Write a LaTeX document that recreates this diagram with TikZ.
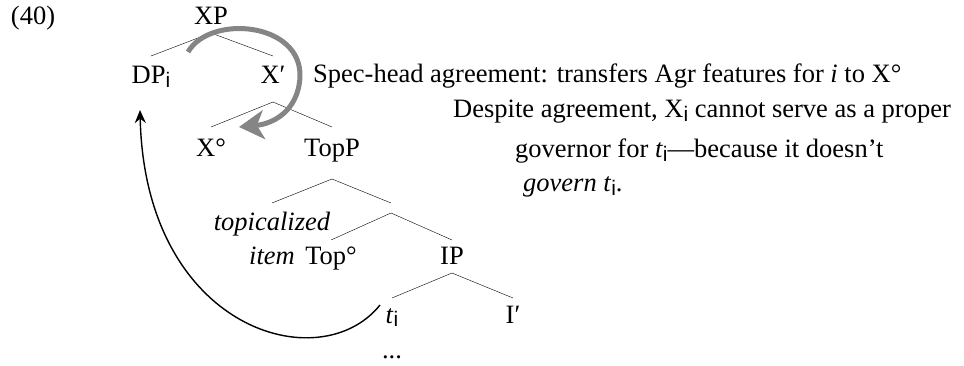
\documentclass[tikz,border=0pt]{standalone}
\usepackage{fontspec}
\usepackage{tikz}
\usetikzlibrary{arrows.meta}
\setmainfont{Liberation Serif}
\newfontfamily\subfont{Liberation Sans}
\newcommand{\sbi}{\raisebox{-3.5pt}{\fontsize{21}{21}\subfont i}}

\tikzset{
    lbl/.style={anchor=base, inner sep=0pt},
    txt/.style={anchor=base west, inner sep=0pt},
    agree/.style={line width=5pt, color=black!48, -{Stealth[length=25pt, width=29pt, inset=7pt]}},
    move/.style={line width=1.4pt, -{Stealth[length=13pt, width=11pt]}}
}

\begin{document}
\begin{tikzpicture}[x=1pt, y=-1pt, font=\fontsize{26.5}{30}\selectfont]
        \useasboundingbox (0,0) rectangle (964,366);
        %number
            \node[lbl] (ex) at (33,25) {(40)};
        %tree nodes
            \node[lbl] (xp) at (211,25) {XP};
            \node[lbl] (dp) at (151,84) {DP\sbi};
            \node[lbl] (xbar) at (273,84) {X′};
            \node[lbl] (xhead) at (211,157) {X°};
            \node[lbl] (topp) at (332,157) {TopP};
            \node[lbl] (topa) at (272,231) {\textit{topicalized}};
            \node[lbl] (topb) at (272,265) {\textit{item}};
            \coordinate (topbar) at (391,208);
            \node[lbl] (tophead) at (331,265) {Top°};
            \node[lbl] (ip) at (452,265) {IP};
            \node[lbl] (trace) at (392,323) {\textit{t}\sbi};
            \node[lbl] (ibar) at (513,323) {I′};
            \node[lbl] (dots) at (392,358) {...};
        % branches
            \draw ([yshift=-8pt]xp.base) -- ([yshift=28pt]dp.base);
            \draw ([yshift=-8pt]xp.base) -- ([yshift=28pt]xbar.base);
            \draw ([yshift=-18pt]xbar.base) -- ([yshift=30pt]xhead.base);
            \draw ([yshift=-18pt]xbar.base) -- ([yshift=30pt]topp.base);
            \draw ([yshift=-22pt]topp.base) -- ([yshift=28pt]topa.base);
            \draw ([yshift=-22pt]topp.base) -- ([yshift=5pt]topbar);
            \draw ([yshift=-5pt]topbar) -- ([yshift=25pt]tophead.base);
            \draw ([yshift=-5pt]topbar) -- ([yshift=25pt]ip.base);
            \draw ([yshift=-8pt]ip.base) -- ([yshift=25pt]trace.base);
            \draw ([yshift=-8pt]ip.base) -- ([yshift=25pt]ibar.base);
        %comments
            \node[txt] (spec) at (313,83) {Spec-head agreement: transfers Agr features for \textit{i} to X°};
            \node[txt] (desp) at (453,118) {Despite agreement, X\sbi{} cannot serve as a proper};
            \node[txt] (gov) at (515,158) {governor for \textit{t}\sbi—because it doesn’t};
            \node[txt] (gov2) at (523,192) {\textit{govern t}\sbi.};
        % arrows
            \draw[agree] ([xshift=37pt,yshift=32pt]dp.base) .. controls (210,14) and (302,22) .. (300,77)
                .. controls (298,112) and (272,124) .. ([xshift=28pt,yshift=30pt]xhead.base);
            \draw[move] ([xshift=-12pt,yshift=18pt]trace.base) .. controls (320,380) and (145,330) .. ([xshift=-11pt,yshift=-26pt]dp.base);
    \end{tikzpicture}
\end{document}
